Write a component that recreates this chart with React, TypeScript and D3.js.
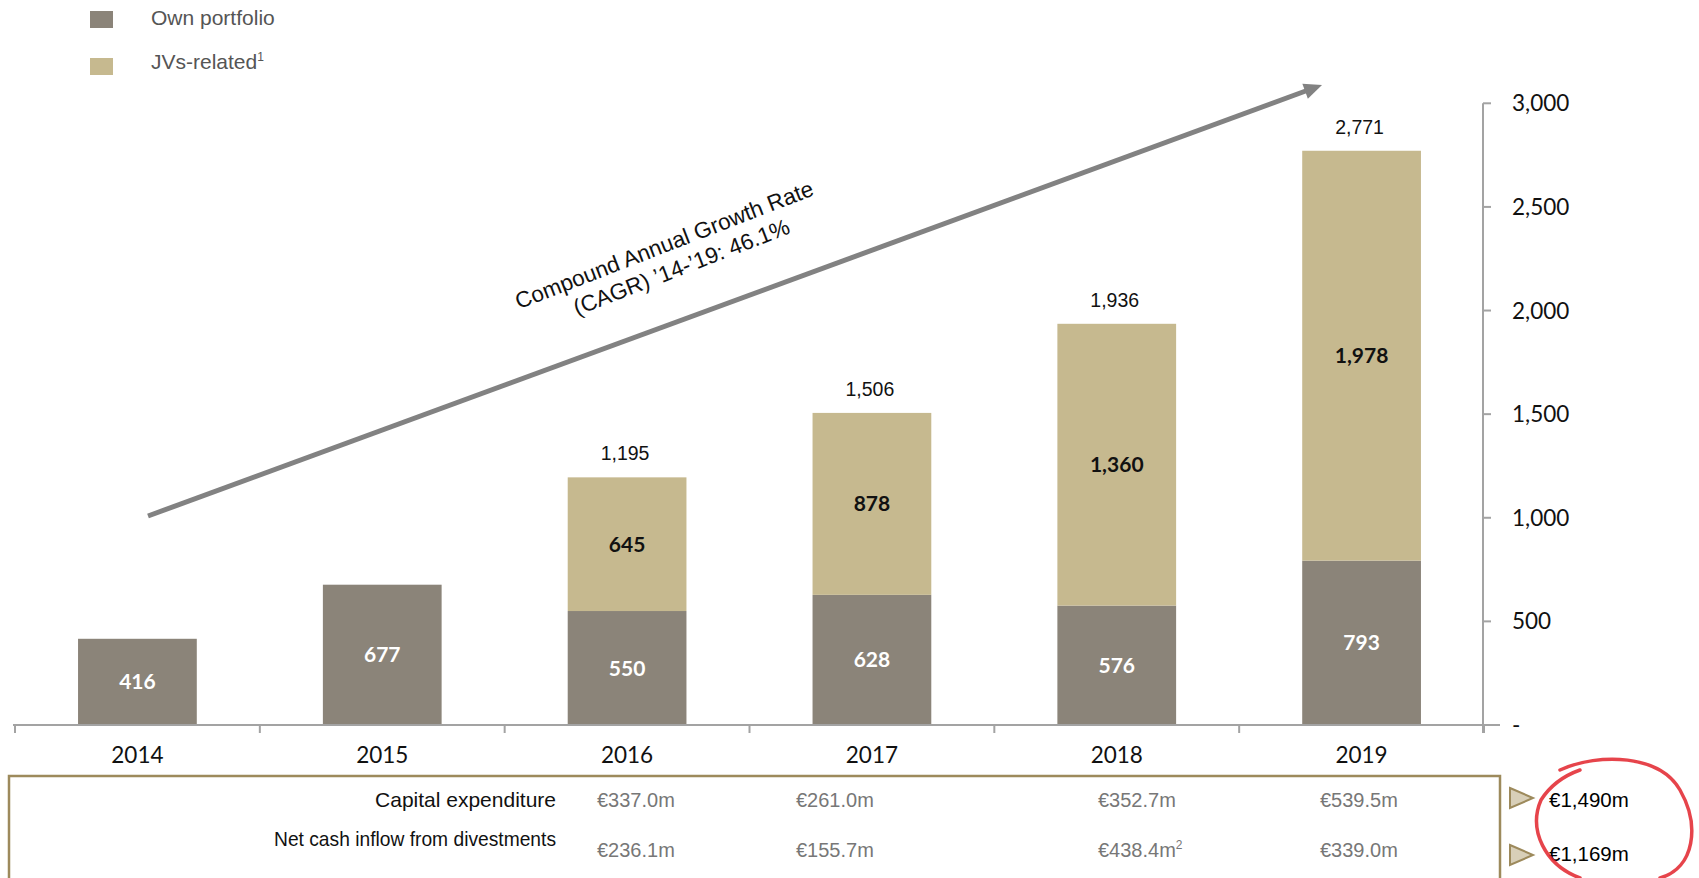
import React from "react";
import * as d3 from "d3";

const years = ["2014", "2015", "2016", "2017", "2018", "2019"];
const ownPortfolio = [416, 677, 550, 628, 576, 793];
const jvsRelated = [0, 0, 645, 878, 1360, 1978];
const yTicks = [0, 500, 1000, 1500, 2000, 2500, 3000];

const capexValues = ["€337.0m", "€261.0m", "€352.7m", "€539.5m"];
const divestValues = ["€236.1m", "€155.7m", "€438.4m", "€339.0m"];
const divestNotes = ["", "", "2", ""];
const tableColumnX = [597, 796, 1098, 1320];
const capexTotal = "€1,490m";
const divestTotal = "€1,169m";

const OWN = "#8b8479";
const JV = "#c6b98f";
const GOLD = "#9d8a5c";
const AXIS = "#a3a3a3";

const W = 1699;
const H = 878;

const calibri = "Lato, 'Open Sans', sans-serif";
const helv = "'Liberation Sans', Arial, sans-serif";
const narrow = "'Liberation Sans Narrow', 'Liberation Sans', Arial, sans-serif";

export default function App() {
  const x = d3.scaleBand<string>().domain(years).range([15, 1484]).paddingInner(0.515).paddingOuter(0.2575);
  const band = d3.scaleBand<string>().domain(years).range([15, 1484]);
  const y = d3.scaleLinear().domain([0, 3000]).range([725, 103.3]);
  const fmt = d3.format(",");

  const arrowStart: [number, number] = [148, 516];
  const arrowEnd: [number, number] = [1322, 85];
  const ang = Math.atan2(arrowEnd[1] - arrowStart[1], arrowEnd[0] - arrowStart[0]);
  const headLen = 18;
  const headW = 8;
  const bx = arrowEnd[0] - headLen * Math.cos(ang);
  const by = arrowEnd[1] - headLen * Math.sin(ang);
  const px = -Math.sin(ang);
  const py = Math.cos(ang);
  const head = `M${arrowEnd[0]},${arrowEnd[1]} L${bx + px * headW},${by + py * headW} L${bx - px * headW},${by - py * headW} Z`;
  const angDeg = (ang * 180) / Math.PI - 1;

  const triangle = (cy: number) => `M1510,${cy - 10} L1533,${cy} L1510,${cy + 10} Z`;

  return (
    <svg width={W} height={H} style={{ position: "absolute", left: 0, top: 0, background: "#fff" }}>
      {/* Legend */}
      <rect x={90} y={11} width={23} height={17} fill={OWN} />
      <text x={151} y={25} fontFamily={helv} fontSize={21} fill="#555">Own portfolio</text>
      <rect x={90} y={58} width={23} height={17} fill={JV} />
      <text x={151} y={69} fontFamily={helv} fontSize={21} fill="#555">
        JVs-related<tspan fontSize={12} dy={-8}>1</tspan>
      </text>

      {/* Bars */}
      {years.map((yr, i) => {
        const own = ownPortfolio[i];
        const jv = jvsRelated[i];
        const total = own + jv;
        const bx0 = x(yr)!;
        const bw = x.bandwidth();
        return (
          <g key={yr}>
            <rect x={bx0} y={y(own)} width={bw} height={y(0) - y(own)} fill={OWN} />
            {jv > 0 && <rect x={bx0} y={y(total)} width={bw} height={y(own) - y(total)} fill={JV} />}
            <text x={bx0 + bw / 2} y={(y(0) + y(own)) / 2} dy="0.36em" textAnchor="middle" fontFamily={calibri} fontWeight={700} fontSize={21} fill="#fff">{fmt(own)}</text>
            {jv > 0 && (
              <text x={bx0 + bw / 2} y={(y(own) + y(total)) / 2} dy="0.36em" textAnchor="middle" fontFamily={calibri} fontWeight={700} fontSize={21} fill="#111">{fmt(jv)}</text>
            )}
            {jv > 0 && (
              <text x={bx0 + bw / 2 - 2} y={y(total) - 17} textAnchor="middle" fontFamily={helv} fontSize={19.5} fill="#111">{fmt(total)}</text>
            )}
          </g>
        );
      })}

      {/* X axis */}
      <line x1={13} x2={1500} y1={y(0)} y2={y(0)} stroke={AXIS} strokeWidth={2} />
      {years.concat(["end"]).map((yr, i) => {
        const tx = 15 + i * band.bandwidth();
        return <line key={"xt" + i} x1={tx} x2={tx} y1={y(0)} y2={y(0) + 8} stroke={AXIS} strokeWidth={2} />;
      })}
      {years.map((yr) => (
        <text key={"xl" + yr} x={band(yr)! + band.bandwidth() / 2} y={763} textAnchor="middle" fontFamily={calibri} fontSize={22.5} fill="#111">{yr}</text>
      ))}

      {/* Y axis (right) */}
      <line x1={1483} x2={1483} y1={y(3000)} y2={y(0) + 8} stroke={AXIS} strokeWidth={2} />
      {yTicks.map((t) => (
        <g key={"yt" + t}>
          <line x1={1483} x2={1491} y1={y(t)} y2={y(t)} stroke={AXIS} strokeWidth={2} />
          <text x={1512} y={y(t)} dy="0.36em" fontFamily={calibri} fontSize={22.5} fill="#111">{t === 0 ? "-" : fmt(t)}</text>
        </g>
      ))}

      {/* CAGR arrow */}
      <line x1={arrowStart[0]} y1={arrowStart[1]} x2={bx + 2 * Math.cos(ang)} y2={by + 2 * Math.sin(ang)} stroke="#828282" strokeWidth={5} />
      <path d={head} fill="#828282" />
      <g transform={`translate(667,252) rotate(${angDeg})`}>
        <text x={0} y={0} textAnchor="middle" fontFamily={helv} fontSize={22.5} fill="#111">Compound Annual Growth Rate</text>
        <text x={8} y={27} textAnchor="middle" fontFamily={helv} fontSize={22.5} fill="#111">(CAGR) ’14-’19: 46.1%</text>
      </g>

      {/* Table */}
      <path d={`M9,${H + 5} L9,776 L1500,776 L1500,${H + 5}`} fill="none" stroke={GOLD} strokeWidth={2.5} />
      <text x={556} y={807} textAnchor="end" fontFamily={narrow} fontSize={21} fill="#111">Capital expenditure</text>
      <text x={556} y={846} textAnchor="end" fontFamily={narrow} fontSize={21} fill="#111" textLength={282} lengthAdjust="spacingAndGlyphs">Net cash inflow from divestments</text>
      {capexValues.map((v, i) => (
        <text key={"cv" + i} x={tableColumnX[i]} y={807} fontFamily={narrow} fontSize={20} fill="#777">{v}</text>
      ))}
      {divestValues.map((v, i) => (
        <text key={"dv" + i} x={tableColumnX[i]} y={857} fontFamily={narrow} fontSize={20} fill="#777">
          {v}
          {divestNotes[i] && <tspan fontSize={12} dy={-8}>{divestNotes[i]}</tspan>}
        </text>
      ))}

      {/* Totals */}
      <path d={triangle(798)} fill="#d8cfb8" stroke={GOLD} strokeWidth={2} />
      <text x={1549} y={807} fontFamily={narrow} fontSize={20.5} fill="#000">{capexTotal}</text>
      <path d={triangle(855)} fill="#d8cfb8" stroke={GOLD} strokeWidth={2} />
      <text x={1549} y={861} fontFamily={narrow} fontSize={20.5} fill="#000">{divestTotal}</text>

      {/* Red hand-drawn circle */}
      <path
        d="M1560,770 C1600,752 1660,755 1680,790 C1700,825 1695,868 1660,878 M1580,878 C1545,865 1528,830 1541,800 C1550,786 1563,776 1580,770"
        fill="none"
        stroke="#e2232b"
        strokeWidth={3.5}
        strokeLinecap="round"
        opacity={0.85}
      />
    </svg>
  );
}
